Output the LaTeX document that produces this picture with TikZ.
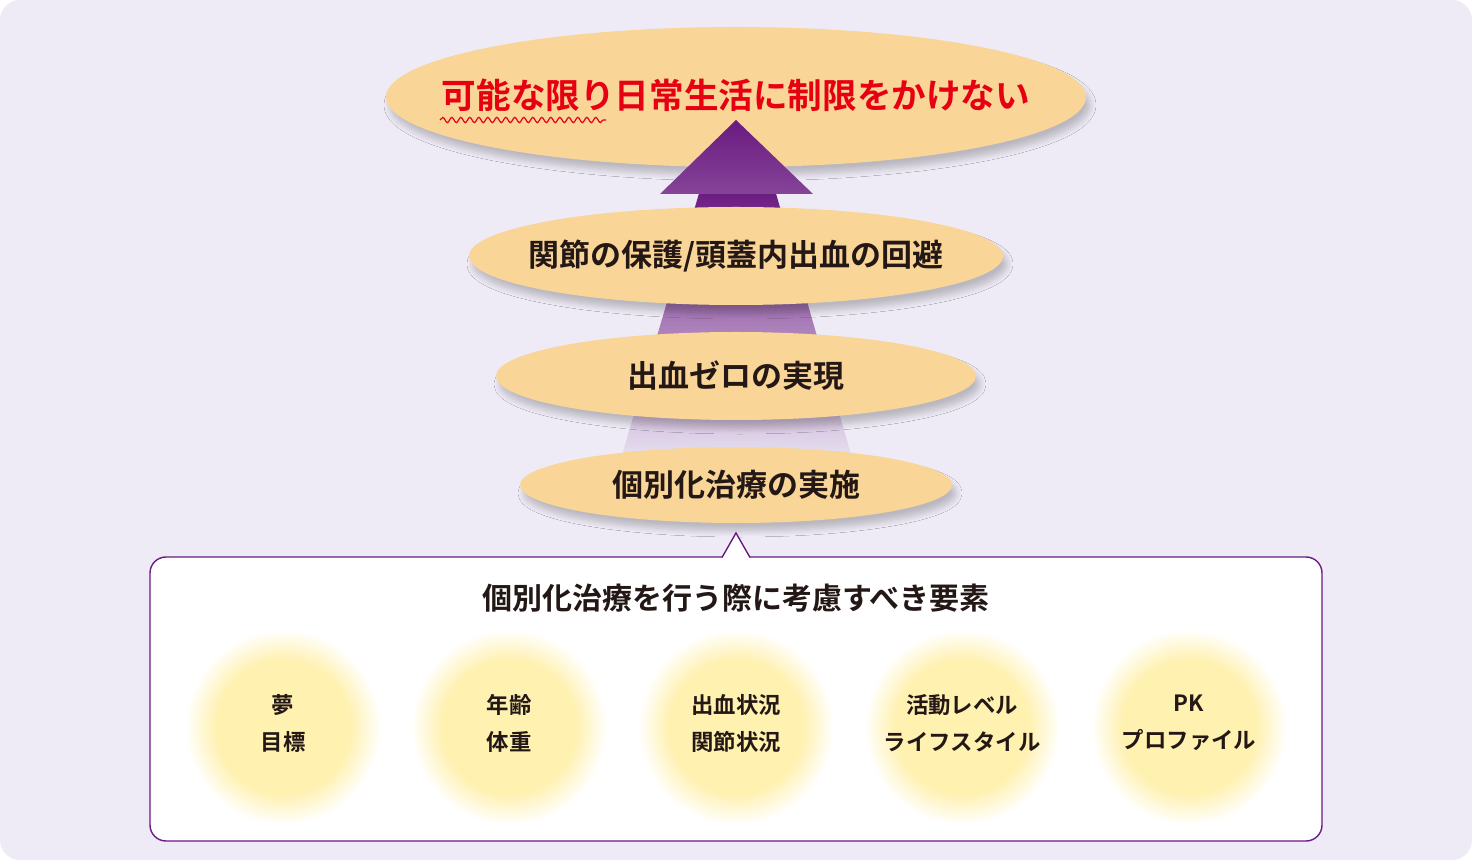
\documentclass[tikz,border=0pt]{standalone}
\usepackage{fontspec}
\setmainfont{Noto Sans CJK JP}[BoldFont={Noto Sans CJK JP Bold}]
\usetikzlibrary{shadows.blur,decorations.pathmorphing}
\definecolor{bgc}{HTML}{EEEBF6}
\definecolor{ell}{HTML}{F9D597}
\definecolor{pur}{HTML}{6A1A80}
\definecolor{txt}{HTML}{231815}
\definecolor{cy}{HTML}{FFF1B0}
\definecolor{redt}{HTML}{E60012}
\pgfdeclareradialshading{fuzzy}{\pgfpoint{0bp}{0bp}}{color(0bp)=(cy);color(17bp)=(cy);color(25bp)=(white);color(50bp)=(white)}
\tikzset{
  shd/.style={blur shadow={shadow xshift=2pt,shadow yshift=-4pt,shadow blur radius=3pt,shadow blur steps=8,shadow opacity=22}},
  mtxt/.style={font=\bfseries\fontsize{15.5}{17}\selectfont,text=txt},
  ctxt/.style={font=\bfseries\fontsize{11.2}{18.5}\selectfont,text=txt,align=center},
}
\begin{document}
\begin{tikzpicture}[x=0.5pt,y=-0.5pt]
\useasboundingbox (0,0) rectangle (1472,860);
\fill[bgc,rounded corners=10pt] (0,0) rectangle (1472,860);
\fill[ell,shd] (736,97) ellipse [x radius=350,y radius=70];
\shade[top color=pur,bottom color=bgc] (700,190) -- (775,190) -- (856,472) -- (617,472) -- cycle;
\shade[top color=pur,bottom color=pur!80!bgc] (736,120) -- (813,194) -- (660,194) -- cycle;
\node[mtxt,font=\bfseries\fontsize{17.3}{19}\selectfont,text=redt] (t1) at (736,95) {可能な限り日常生活に制限をかけない};
\coordinate (u1) at (440,120); \coordinate (u2) at (606,120);
\draw[redt,line width=0.6pt,decorate,decoration={snake,amplitude=1.3pt,segment length=4.5pt}] (u1) -- (u2);
\fill[ell,shd] (736,256) ellipse [x radius=267,y radius=49];
\node[mtxt] (t2) at (736,256) {関節の保護/頭蓋内出血の回避};
\fill[ell,shd] (736,376) ellipse [x radius=240,y radius=44];
\node[mtxt] (t3) at (736,376) {出血ゼロの実現};
\fill[ell,shd] (736,485) ellipse [x radius=216,y radius=38];
\node[mtxt] (t4) at (736,485) {個別化治療の実施};
\draw[pur,fill=white,line width=0.7pt,rounded corners=8pt] (722,557) -- (150,557) -- (150,841) -- (1322,841) -- (1322,557) -- (750,557);
\draw[pur,fill=white,line width=0.7pt] (722,557.5) -- (736,533) -- (750,557.5);
\fill[white] (723,558.5) -- (749,558.5) -- (736,536) -- cycle;
\node[mtxt,font=\bfseries\fontsize{15}{17}\selectfont] (bt) at (736,598) {個別化治療を行う際に考慮すべき要素};
\foreach \x/\t [count=\i] in {283/{夢\\目標},509/{年齢\\体重},736/{出血状況\\関節状況},962/{活動レベル\\ライフスタイル},1189/{PK\\プロファイル}}{
  \shade[shading=fuzzy] (\x,727) circle [radius=98];
  \node[ctxt] (c\i) at (\x,723) {\t};
}
\end{tikzpicture}
\end{document}
